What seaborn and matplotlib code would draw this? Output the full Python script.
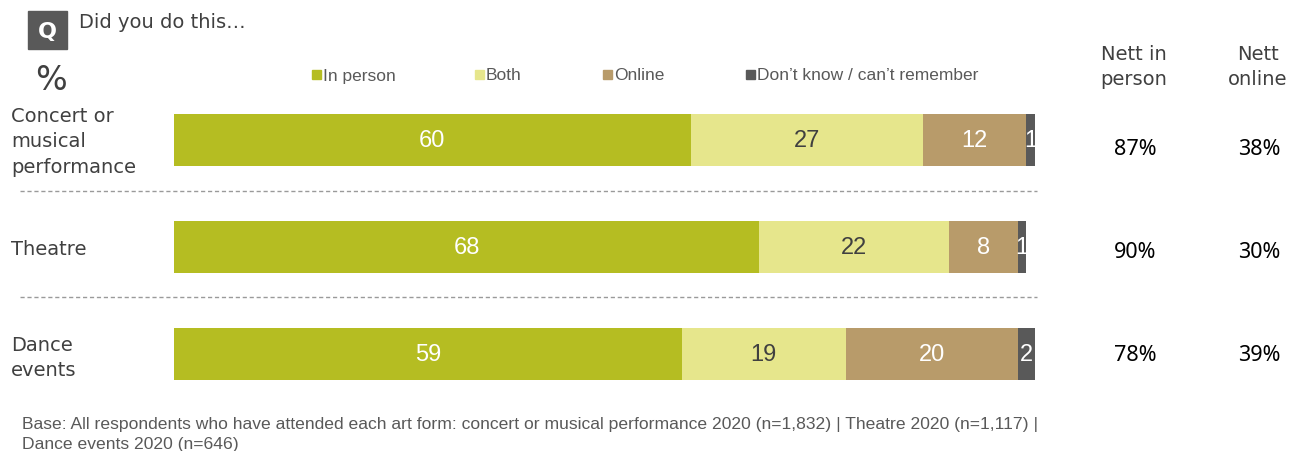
import matplotlib
matplotlib.use("Agg")
import matplotlib.pyplot as plt
import seaborn as sns
import numpy as np
import pandas as pd
from matplotlib.lines import Line2D
from matplotlib.patches import Rectangle

# Survey data (%)
categories = ["Concert or\nmusical\nperformance", "Theatre", "Dance\nevents"]
series_names = ["In person", "Both", "Online", "Don\u2019t know / can\u2019t remember"]
in_person = [60, 68, 59]
both = [27, 22, 19]
online = [12, 8, 20]
dont_know = [1, 1, 2]
nett_in_person = ["87%", "90%", "78%"]
nett_online = ["38%", "30%", "39%"]

colors = ["#b5bd22", "#e6e68c", "#b89b6a", "#595959"]
label_colors = ["white", "#404040", "white", "white"]
grey = "#595959"
dark = "#404040"

sns.set_theme(style="white")
plt.rcParams["font.family"] = ["DejaVu Sans"]

W, H = 1292, 452
fig = plt.figure(figsize=(W / 100, H / 100), dpi=100)
ax_l, ax_r = 174, 1035
ax_t, ax_b = 87.5, 408.5
ax = fig.add_axes([ax_l / W, 1 - ax_b / H, (ax_r - ax_l) / W, (ax_b - ax_t) / H])

series = [in_person, both, online, dont_know]
cum = np.cumsum(np.array(series, dtype=float), axis=0)  # rows: stacked running totals

# Stacked bars: draw the longest running total first, shorter ones on top
for k in range(len(series) - 1, -1, -1):
    df = pd.DataFrame({"cat": categories, "val": cum[k]})
    sns.barplot(data=df, x="val", y="cat", orient="h", color=colors[k],
                width=0.49, saturation=1, edgecolor="none", linewidth=0, ax=ax)

# Segment value labels
for i in range(len(categories)):
    for k in range(len(series)):
        start = cum[k - 1][i] if k > 0 else 0.0
        mid = start + series[k][i] / 2
        ax.text(mid, i, str(series[k][i]), ha="center", va="center",
                fontsize=17, color=label_colors[k], family="Liberation Sans")

ax.set_xlim(0, 100)
ax.set_ylim(2.5, -0.5)
ax.axis("off")


def fx(px):
    return px / W


def fy(py):
    return 1 - py / H


# Category labels
label_y = [142, 250, 358]
for name, py in zip(categories, label_y):
    fig.text(fx(11), fy(py), name, ha="left", va="center", fontsize=14,
             color=dark, linespacing=1.42, family="DejaVu Sans")

# Dashed separators
for py in [192, 298]:
    fig.add_artist(Line2D([fx(20), fx(1037)], [fy(py), fy(py)], color="#9a9a9a",
                          linestyle=(0, (3, 2)), linewidth=1, transform=fig.transFigure))

# Nett columns
fig.text(fx(1134), fy(67), "Nett in\nperson", ha="center", va="center", fontsize=14,
         color=dark, linespacing=1.45, family="DejaVu Sans")
fig.text(fx(1258), fy(67), "Nett\nonline", ha="center", va="center", fontsize=14,
         color=dark, linespacing=1.45, family="DejaVu Sans")
for a, b, py in zip(nett_in_person, nett_online, [150, 252, 356]):
    fig.text(fx(1135), fy(py), a, ha="center", va="center", fontsize=15.5,
             color="black", family="Noto Sans")
    fig.text(fx(1259), fy(py), b, ha="center", va="center", fontsize=15.5,
             color="black", family="Noto Sans")

# Question badge and title
fig.add_artist(Rectangle((fx(28), fy(50)), fx(39), 38 / H, color=grey,
                         transform=fig.transFigure))
fig.text(fx(47.5), fy(32), "Q", ha="center", va="center", fontsize=16,
         fontweight="bold", color="white", family="DejaVu Sans")
fig.text(fx(79), fy(22), "Did you do this\u2026", ha="left", va="center",
         fontsize=14, color=dark, family="DejaVu Sans")
fig.text(fx(51), fy(80), "%", ha="center", va="center", fontsize=24,
         color=dark, family="DejaVu Sans")

# Legend
leg_x = [312, 475, 603, 746]
for name, c, px in zip(series_names, colors, leg_x):
    fig.add_artist(Rectangle((fx(px), fy(80)), 9 / W, 9 / H, color=c,
                             transform=fig.transFigure))
    fig.text(fx(px + 11), fy(76), name, ha="left", va="center", fontsize=12.5,
             color=grey, family="Liberation Sans")

# Base note
fig.text(fx(22), fy(425), "Base: All respondents who have attended each art form: concert or "
         "musical performance 2020 (n=1,832) | Theatre 2020 (n=1,117) |",
         ha="left", va="center", fontsize=12.6, color=grey, family="Liberation Sans")
fig.text(fx(22), fy(445), "Dance events 2020 (n=646)", ha="left", va="center",
         fontsize=12.6, color=grey, family="Liberation Sans")

fig.savefig("out.png", dpi=100, facecolor="white")
